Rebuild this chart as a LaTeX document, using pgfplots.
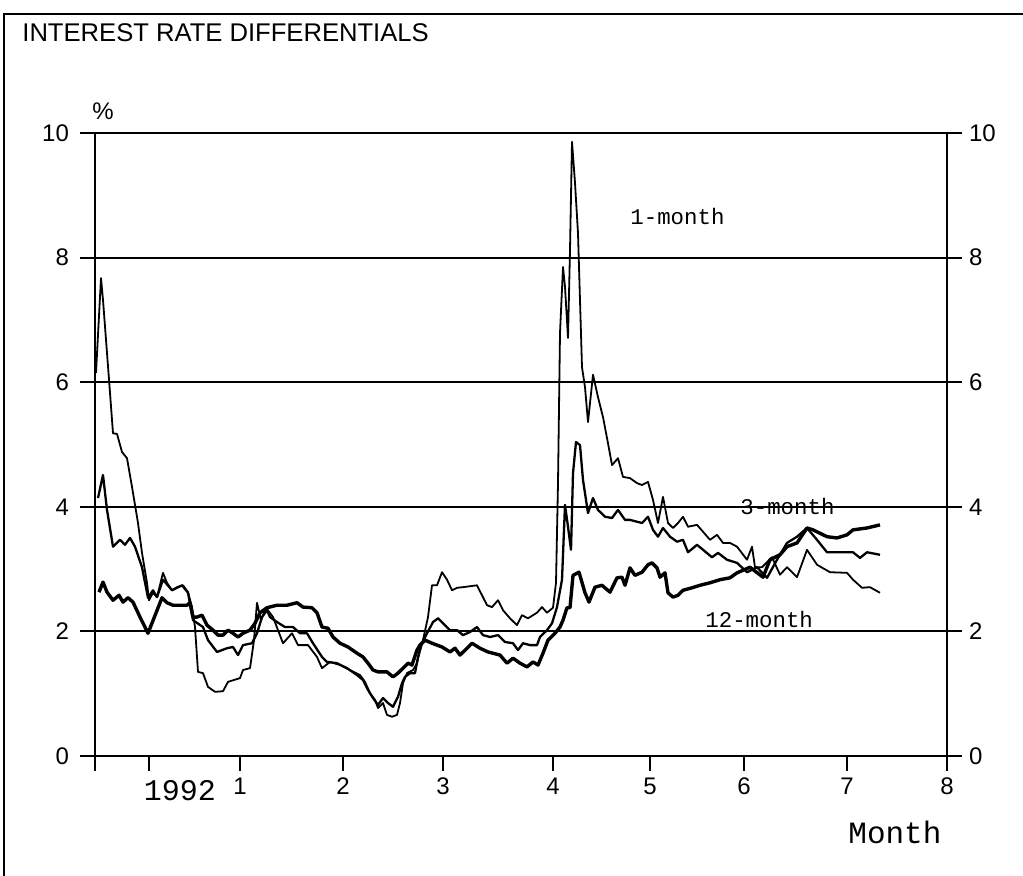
\documentclass[border=0pt]{standalone}
\usepackage{fontspec}
\setmainfont{Liberation Sans}
\newfontfamily\mono{Liberation Mono}
\usepackage{pgfplots}
\pgfplotsset{compat=1.18}
\begin{document}
\begin{tikzpicture}
\useasboundingbox (0pt,0pt) rectangle (511.5pt,-438pt);
\draw[line width=0.9pt] (2pt,-438pt) -- (2pt,-7pt) -- (511.5pt,-7pt);
\node[anchor=base west, font=\fontsize{12.8}{14}\selectfont, inner sep=0pt] at (11pt,-21pt) {INTEREST RATE DIFFERENTIALS};
\pgfplotsset{every axis/.append style={
  at={(47.5pt,-378pt)}, anchor=south west, scale only axis, width=426pt, height=311.5pt,
  xmin=-0.54, xmax=7.98, ymin=0, ymax=10,
  axis line style={line width=1pt},
  tick align=outside, major tick length=7.5pt,
  tick style={line width=1pt, black},
  ytick={0,2,4,6,8,10},
  /pgf/number format/assume math mode=true,
  tick label style={font=\fontsize{12}{12}\selectfont},
  clip=false}}
\begin{axis}[
  ymajorgrids, grid style={line width=1pt, black},
  xtick={-0.54,0,0.91,1.94,2.94,4.04,5.01,5.95,6.98,7.98},
  xticklabels={,,1,2,3,4,5,6,7,8},
  xtick pos=left, ytick pos=left, yticklabel pos=left,
  yticklabel style={xshift=-2pt},
]
\addplot[black, line width=0.9pt, line join=round] coordinates {
(-0.53,6.15)(-0.48,7.67)(-0.46,7.32)(-0.42,6.47)(-0.39,5.83)(-0.36,5.18)(-0.32,5.17)(-0.27,4.88)(-0.22,4.78)(-0.17,4.32)(-0.11,3.74)(-0.07,3.26)(-0.02,2.78)(0.00,2.50)(0.04,2.62)(0.08,2.55)(0.14,2.94)(0.18,2.78)(0.23,2.66)(0.28,2.71)(0.34,2.74)(0.39,2.63)(0.43,2.39)(0.46,2.07)(0.49,1.35)(0.54,1.33)(0.59,1.11)(0.66,1.03)(0.74,1.04)(0.79,1.19)(0.91,1.25)(0.94,1.38)(1.01,1.41)(1.05,1.86)(1.08,2.46)(1.12,2.18)(1.17,2.38)(1.24,2.23)(1.34,1.81)(1.43,1.97)(1.49,1.78)(1.59,1.78)(1.68,1.59)(1.73,1.41)(1.81,1.51)(1.91,1.46)(2.01,1.38)(2.11,1.30)(2.16,1.19)(2.21,1.01)(2.26,0.90)(2.29,0.77)(2.34,0.85)(2.38,0.66)(2.43,0.63)(2.48,0.66)(2.51,0.85)(2.54,1.17)(2.58,1.33)(2.64,1.38)(2.68,1.49)(2.71,1.70)(2.74,1.86)(2.79,2.23)(2.83,2.74)(2.88,2.74)(2.93,2.95)(2.98,2.83)(3.03,2.66)(3.08,2.70)(3.14,2.71)(3.28,2.74)(3.33,2.58)(3.38,2.42)(3.43,2.39)(3.49,2.50)(3.54,2.34)(3.61,2.21)(3.68,2.10)(3.73,2.26)(3.79,2.21)(3.88,2.30)(3.93,2.39)(3.98,2.30)(4.04,2.38)(4.07,2.78)(4.09,4.38)(4.11,6.79)(4.14,7.85)(4.16,7.53)(4.19,6.71)(4.21,8.12)(4.23,9.86)(4.26,9.20)(4.29,8.39)(4.33,6.24)(4.36,5.92)(4.39,5.36)(4.44,6.12)(4.49,5.76)(4.54,5.44)(4.59,5.02)(4.63,4.67)(4.69,4.78)(4.74,4.48)(4.81,4.46)(4.88,4.38)(4.93,4.35)(4.99,4.40)(5.04,4.11)(5.09,3.74)(5.14,4.16)(5.19,3.74)(5.24,3.66)(5.29,3.74)(5.34,3.84)(5.39,3.68)(5.48,3.71)(5.54,3.60)(5.61,3.47)(5.68,3.55)(5.74,3.42)(5.81,3.42)(5.88,3.36)(5.98,3.15)(6.03,3.36)(6.06,3.03)(6.13,3.03)(6.23,3.19)(6.31,2.91)(6.38,3.03)(6.48,2.87)(6.58,3.31)(6.68,3.07)(6.81,2.95)(6.98,2.94)(7.04,2.83)(7.13,2.70)(7.21,2.71)(7.31,2.62)
};
\addplot[black, line width=1.15pt, line join=round] coordinates {
(-0.51,4.14)(-0.46,4.51)(-0.42,3.95)(-0.36,3.36)(-0.29,3.47)(-0.24,3.39)(-0.19,3.50)(-0.14,3.36)(-0.07,3.03)(-0.01,2.54)(0.04,2.66)(0.08,2.55)(0.14,2.83)(0.23,2.66)(0.33,2.74)(0.39,2.62)(0.44,2.18)(0.54,2.07)(0.59,1.86)(0.68,1.67)(0.78,1.73)(0.84,1.75)(0.89,1.62)(0.94,1.78)(1.03,1.81)(1.08,1.97)(1.13,2.23)(1.18,2.34)(1.21,2.23)(1.28,2.15)(1.36,2.07)(1.44,2.07)(1.51,1.97)(1.58,1.97)(1.64,1.81)(1.73,1.59)(1.78,1.51)(1.88,1.49)(1.98,1.41)(2.08,1.30)(2.14,1.22)(2.19,1.06)(2.24,0.93)(2.29,0.82)(2.34,0.93)(2.39,0.85)(2.44,0.79)(2.49,0.95)(2.53,1.17)(2.56,1.27)(2.61,1.33)(2.66,1.33)(2.69,1.59)(2.73,1.81)(2.78,1.97)(2.84,2.15)(2.89,2.21)(2.94,2.13)(3.01,2.02)(3.08,2.02)(3.14,1.94)(3.21,1.99)(3.28,2.07)(3.34,1.94)(3.41,1.91)(3.49,1.94)(3.56,1.83)(3.64,1.81)(3.69,1.70)(3.74,1.81)(3.81,1.78)(3.88,1.78)(3.91,1.91)(3.98,2.02)(4.03,2.13)(4.08,2.39)(4.13,2.83)(4.16,4.03)(4.19,3.68)(4.22,3.31)(4.24,4.54)(4.27,5.04)(4.31,4.99)(4.34,4.43)(4.39,3.90)(4.44,4.14)(4.49,3.95)(4.56,3.84)(4.63,3.82)(4.69,3.95)(4.76,3.79)(4.81,3.79)(4.88,3.76)(4.93,3.74)(4.99,3.84)(5.04,3.63)(5.09,3.52)(5.14,3.66)(5.21,3.52)(5.28,3.44)(5.34,3.47)(5.39,3.27)(5.48,3.39)(5.54,3.31)(5.63,3.19)(5.69,3.26)(5.78,3.15)(5.88,3.10)(5.98,2.95)(6.08,3.03)(6.18,2.86)(6.28,3.15)(6.38,3.42)(6.48,3.52)(6.58,3.66)(6.68,3.47)(6.78,3.27)(6.91,3.27)(7.04,3.27)(7.11,3.18)(7.18,3.27)(7.31,3.23)
};
\addplot[black, line width=1.7pt, line join=round] coordinates {
(-0.50,2.63)(-0.46,2.79)(-0.42,2.63)(-0.36,2.50)(-0.30,2.58)(-0.26,2.47)(-0.21,2.54)(-0.16,2.47)(-0.09,2.23)(-0.01,1.97)(0.13,2.54)(0.18,2.46)(0.24,2.42)(0.38,2.42)(0.41,2.46)(0.44,2.23)(0.48,2.23)(0.53,2.26)(0.58,2.10)(0.64,2.02)(0.69,1.94)(0.74,1.94)(0.79,2.02)(0.84,1.97)(0.89,1.91)(0.94,1.97)(1.01,2.02)(1.06,2.13)(1.11,2.30)(1.18,2.38)(1.28,2.42)(1.38,2.42)(1.48,2.46)(1.54,2.39)(1.63,2.38)(1.68,2.30)(1.73,2.07)(1.79,2.05)(1.84,1.91)(1.91,1.81)(1.99,1.75)(2.08,1.65)(2.14,1.59)(2.19,1.49)(2.24,1.38)(2.29,1.35)(2.38,1.35)(2.44,1.27)(2.49,1.33)(2.54,1.41)(2.59,1.49)(2.63,1.46)(2.68,1.70)(2.71,1.78)(2.76,1.86)(2.83,1.81)(2.93,1.75)(3.01,1.67)(3.06,1.73)(3.11,1.62)(3.18,1.73)(3.23,1.81)(3.31,1.73)(3.39,1.67)(3.51,1.62)(3.58,1.49)(3.64,1.57)(3.71,1.49)(3.78,1.43)(3.84,1.51)(3.89,1.46)(3.94,1.65)(3.99,1.86)(4.06,1.97)(4.11,2.07)(4.14,2.18)(4.18,2.38)(4.21,2.38)(4.24,2.90)(4.30,2.95)(4.36,2.62)(4.40,2.47)(4.46,2.71)(4.53,2.74)(4.61,2.63)(4.68,2.86)(4.73,2.87)(4.76,2.74)(4.81,3.02)(4.86,2.90)(4.93,2.95)(4.99,3.07)(5.03,3.10)(5.08,3.02)(5.11,2.87)(5.16,2.94)(5.19,2.62)(5.24,2.55)(5.29,2.58)(5.34,2.66)(5.43,2.70)(5.51,2.74)(5.61,2.78)(5.71,2.83)(5.81,2.86)(5.88,2.94)(6.01,3.03)(6.14,2.87)(6.21,3.15)(6.31,3.23)(6.38,3.36)(6.48,3.42)(6.58,3.66)(6.64,3.63)(6.78,3.52)(6.88,3.50)(6.98,3.55)(7.04,3.63)(7.18,3.66)(7.31,3.71)
};
\end{axis}
\begin{axis}[
  xtick=\empty, ytick pos=right, yticklabel pos=right,
]
\end{axis}
\node[anchor=base west, font=\fontsize{12}{12}\selectfont, inner sep=0pt] at (46pt,-60pt) {\%};
\node[anchor=base, font=\mono\fontsize{15}{15}\selectfont, inner sep=0pt] at (90pt,-400pt) {1992};
\node[anchor=base west, font=\mono\fontsize{15.5}{15.5}\selectfont, inner sep=0pt] at (424pt,-421.5pt) {Month};
\node[anchor=base west, font=\mono\fontsize{11.2}{11.2}\selectfont, inner sep=0pt] at (315pt,-112.5pt) {1-month};
\node[anchor=base west, font=\mono\fontsize{11.2}{11.2}\selectfont, inner sep=0pt] at (370pt,-257.5pt) {3-month};
\node[anchor=base west, font=\mono\fontsize{11.2}{11.2}\selectfont, inner sep=0pt] at (352.5pt,-314pt) {12-month};
\end{tikzpicture}
\end{document}
